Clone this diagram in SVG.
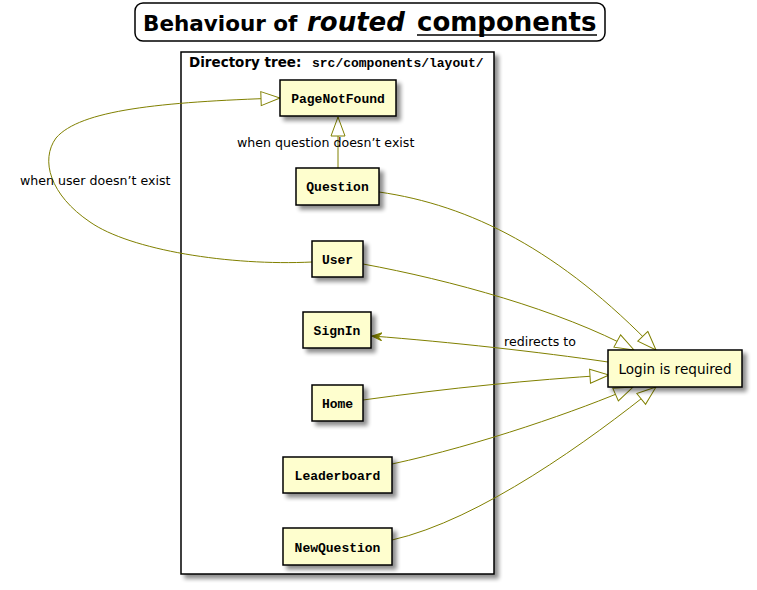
<svg xmlns="http://www.w3.org/2000/svg" width="757" height="590" viewBox="0 0 757 590">
<style>
.node{fill:#FEFECE;stroke:#000;stroke-width:1.5;filter:url(#sh)}
.ntext{font-family:"Liberation Mono",monospace;font-weight:bold;font-size:13px;fill:#000;text-anchor:middle}
.edge{fill:none;stroke:#808000;stroke-width:1}
.lbl{font-family:"DejaVu Sans",sans-serif;font-size:12.6px;fill:#000}
.ttl{font-family:"DejaVu Sans",sans-serif;font-weight:bold;fill:#000}
</style>
<defs>
<filter id="sh" x="-20%" y="-20%" width="150%" height="160%">
<feGaussianBlur in="SourceAlpha" stdDeviation="2"/>
<feOffset dx="4" dy="4" result="b"/>
<feComponentTransfer><feFuncA type="linear" slope="0.45"/></feComponentTransfer>
<feMerge><feMergeNode/><feMergeNode in="SourceGraphic"/></feMerge>
</filter>
<marker id="tri" markerWidth="22" markerHeight="18" refX="20" refY="8" orient="auto" markerUnits="userSpaceOnUse">
<path d="M1,1 L20,8 L1,15 Z" fill="#fff" stroke="#808000" stroke-width="1"/>
</marker>
<marker id="arr" markerWidth="12" markerHeight="10" refX="10" refY="4" orient="auto" markerUnits="userSpaceOnUse">
<path d="M0,0 L10,4 L0,8 L4,4 Z" fill="#808000" stroke="#808000" stroke-width="1"/>
</marker>
</defs>
<rect width="757" height="590" fill="#fff"/>
<g id="title">
<rect x="135" y="3" width="470" height="38" rx="8" fill="#fff" stroke="#000" stroke-width="1.5"/>
<text class="ttl" x="143" y="31" font-size="21.5">Behaviour of</text>
<text class="ttl" x="307" y="31" font-size="26" font-style="italic">routed</text>
<text class="ttl" x="417" y="31" font-size="26">components</text>
<line x1="417" y1="35" x2="597" y2="35" stroke="#000" stroke-width="1.5"/>
</g>
<g id="package">
<rect x="181" y="52" width="313" height="522" fill="#fff" stroke="#000" stroke-width="1.5" filter="url(#sh)"/>
<text x="189" y="67" font-family="DejaVu Sans,sans-serif" font-weight="bold" font-size="13.5" fill="#000">Directory tree:</text>
<text x="312" y="67" font-family="Liberation Mono,monospace" font-weight="bold" font-size="13" fill="#000">src/components/layout/</text>
</g>
<g id="connectors">
<path class="edge" d="M338,168 L338,117" marker-end="url(#tri)"/>
<path class="edge" d="M312,262 C230,266 130,250 90,222 C50,195 40,160 56,138 C80,110 160,102 280,98" marker-end="url(#tri)"/>
<path class="edge" d="M379,192 C470,205 560,250 656,350" marker-end="url(#tri)"/>
<path class="edge" d="M363,264 C450,280 560,310 634,350" marker-end="url(#tri)"/>
<path class="edge" d="M608,362 C540,352 450,342 372,336" marker-end="url(#arr)"/>
<path class="edge" d="M363,400 C450,388 530,380 609,375" marker-end="url(#tri)"/>
<path class="edge" d="M392,464 C480,445 580,410 633,387" marker-end="url(#tri)"/>
<path class="edge" d="M392,540 C480,520 590,440 656,387" marker-end="url(#tri)"/>
<text class="lbl" x="237" y="147">when question doesn’t exist</text>
<text class="lbl" x="20" y="185">when user doesn’t exist</text>
<text class="lbl" x="504" y="346">redirects to</text>
</g>
<g id="PageNotFound"><rect class="node" x="280" y="80" width="116" height="36"/><text class="ntext" x="338" y="103">PageNotFound</text></g>
<g id="Question"><rect class="node" x="296" y="168" width="83" height="37"/><text class="ntext" x="337.5" y="191">Question</text></g>
<g id="User"><rect class="node" x="312" y="241" width="51" height="36"/><text class="ntext" x="337.5" y="264">User</text></g>
<g id="SignIn"><rect class="node" x="303" y="312" width="68" height="36"/><text class="ntext" x="337" y="335">SignIn</text></g>
<g id="Home"><rect class="node" x="312" y="385" width="51" height="36"/><text class="ntext" x="337.5" y="408">Home</text></g>
<g id="Leaderboard"><rect class="node" x="283" y="457" width="109" height="36"/><text class="ntext" x="337.5" y="480">Leaderboard</text></g>
<g id="NewQuestion"><rect class="node" x="283" y="528" width="109" height="37"/><text class="ntext" x="337.5" y="552">NewQuestion</text></g>
<g id="Login"><rect class="node" x="608" y="350" width="134" height="37"/><text x="675" y="374" font-family="DejaVu Sans,sans-serif" font-size="13.6" text-anchor="middle" fill="#000">Login is required</text></g>
</svg>
